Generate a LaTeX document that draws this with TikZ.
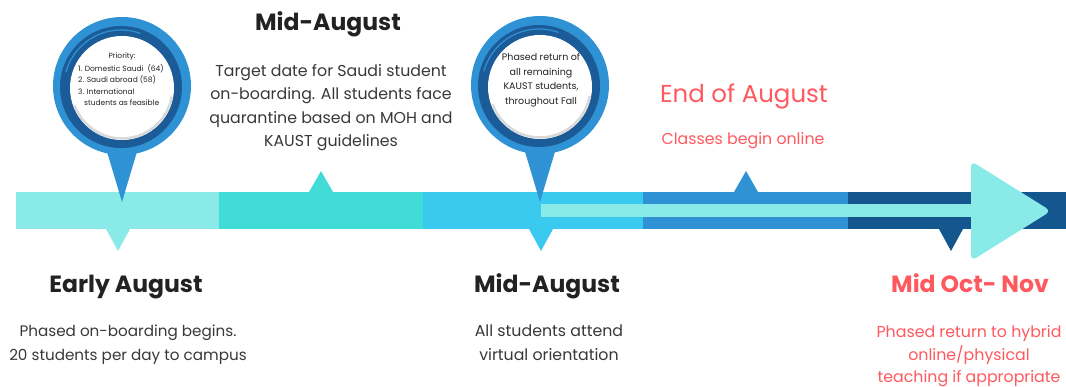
\documentclass[tikz,border=0pt]{standalone}
\usepackage{fontspec}
\setmainfont{Poppins}
\definecolor{B1}{RGB}{138,234,232}
\definecolor{B2}{RGB}{65,219,216}
\definecolor{B3}{RGB}{58,202,239}
\definecolor{B4}{RGB}{47,146,213}
\definecolor{B5}{RGB}{20,86,142}
\definecolor{D4}{RGB}{27,92,152}
\definecolor{R4}{RGB}{255,88,94}
\definecolor{T4}{RGB}{34,34,34}
\begin{document}
\begin{tikzpicture}[x=1pt,y=-1pt,
    head/.style={anchor=base, text=T4, font=\fontsize{23.5}{28}\selectfont\bfseries},
    body/.style={anchor=base, align=center, text=T4!90, font=\fontsize{15.8}{23.5}\selectfont},
    redhead/.style={head, text=R4},
    pintxt/.style={text=T4, inner sep=0pt}]
      \useasboundingbox (0,0) rectangle (1066,387);
      \fill[B1] (16,192) rectangle (219,229);
      \fill[B2] (219,192) rectangle (423,229);
      \fill[B3] (423,192) rectangle (643,229);
      \fill[B4] (643,192) rectangle (848,229);
      \fill[B5] (848,192) rectangle (1066,229);
      \fill[B1] (106,229) -- (130,229) -- (118,251) -- cycle;
      \fill[B2] (309,192) -- (333,192) -- (321,171) -- cycle;
      \fill[B3] (529,229) -- (553,229) -- (541,251) -- cycle;
      \fill[B4] (734,192) -- (758,192) -- (746,171) -- cycle;
      \fill[B5] (939,229) -- (963,229) -- (951,251) -- cycle;
      \fill[B1] (541,204) rectangle (985,217);
      \fill[B1, rounded corners=6pt] (971,161) -- (1051,211) -- (971,261) -- cycle;
      \foreach \px/\py in {122/86, 540/85}{
        \fill[B4] (\px-17,145) -- (\px+17,145) -- (\px,202) -- cycle;
        \fill[B4] (\px,\py) circle[radius=69];
        \fill[D4] (\px-1,\py+1) circle[radius=61];
        \draw[B4, line width=1.2pt] (\px-1,\py+1) ++(195:57) arc[start angle=195, end angle=290, radius=57];
        \fill[white] (\px,\py+2) circle[radius=52];
        \draw[gray!30, line width=2.5pt] (\px,\py+2) ++(10:50.5) arc[start angle=10, end angle=160, radius=50.5];
      }
      \node[pintxt, font=\fontsize{7.5}{11.5}\selectfont] (prio) at (122,57) {Priority:};
      \node[pintxt, font=\fontsize{7.5}{11.5}\selectfont, align=left, anchor=north west] (priolist) at (78,64)
        {1. Domestic Saudi\ \ (64)\\2. Saudi abroad (58)\\3. International\\\hspace{6pt}students as feasible};
      \node[pintxt, font=\fontsize{9.5}{14.5}\selectfont, align=center] (fall) at (541,80)
        {Phased return of\\all remaining\\KAUST students,\\throughout Fall};
      \node[head] (midtop) at (328,31) {Mid-August};
      \node[body] (target) at (331,147) {Target date for Saudi student\\on-boarding. All students face\\quarantine based on MOH and\\KAUST guidelines};
      \node[head] (early) at (126,293) {Early August};
      \node[body, font=\fontsize{15.2}{23.5}\selectfont] (phased) at (128,360) {Phased on-boarding begins.\\20 students per day to campus};
      \node[head] (midbot) at (547,293) {Mid-August};
      \node[body] (virtual) at (549,360) {All students attend\\virtual orientation};
      \node[anchor=base, text=R4, font=\fontsize{24.5}{28}\selectfont] (endaug) at (744,103) {End of August};
      \node[body, text=R4] (classes) at (743,145) {Classes begin online};
      \node[redhead] (midoct) at (970,293) {Mid Oct- Nov};
      \node[body, text=R4, font=\fontsize{15.8}{22}\selectfont] (hybrid) at (969,382) {Phased return to hybrid\\online/physical\\teaching if appropriate};
    \end{tikzpicture}
\end{document}
